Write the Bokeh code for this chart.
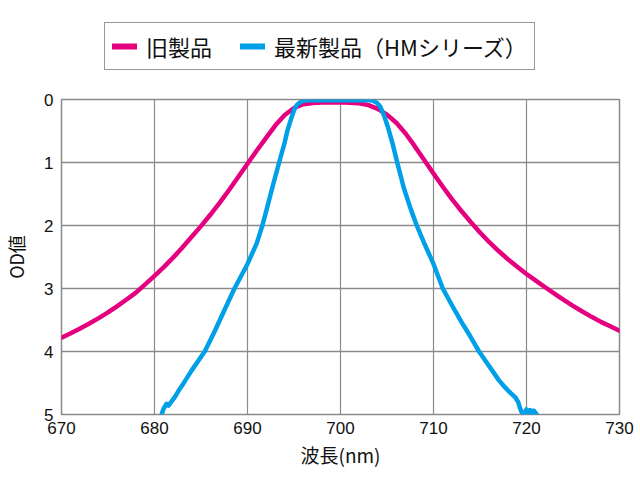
from bokeh.plotting import figure
from bokeh.layouts import column
from bokeh.models import Range1d, Legend, LegendItem, FixedTicker
from bokeh.embed import file_html
from bokeh.resources import INLINE

# --- data ---
old_nm = [670, 671, 672, 673, 674, 675, 676, 677, 678, 679, 680, 681, 682, 683, 684,
          685, 686, 687, 688, 689, 690, 691, 692, 693, 694, 695, 696, 697, 698, 700,
          702, 703, 704, 705, 706, 707, 708, 709, 710, 711, 712, 713, 714, 715, 716,
          717, 718, 719, 720, 721, 722, 723, 724, 725, 726, 727, 728, 729, 730]
old_od = [3.78, 3.71, 3.635, 3.555, 3.47, 3.38, 3.28, 3.175, 3.065, 2.935, 2.80, 2.66,
          2.51, 2.35, 2.18, 2.01, 1.83, 1.64, 1.44, 1.23, 1.02, 0.81, 0.61, 0.41, 0.245,
          0.135, 0.075, 0.055, 0.047, 0.045, 0.06, 0.09, 0.15, 0.24, 0.37, 0.54, 0.745,
          0.96, 1.175, 1.385, 1.585, 1.77, 1.945, 2.11, 2.265, 2.405, 2.535, 2.655, 2.77,
          2.875, 2.98, 3.08, 3.18, 3.275, 3.365, 3.45, 3.53, 3.60, 3.67]

new_nm = [680.8, 681.0, 681.3, 681.5, 681.8, 682.2, 682.6, 683.1, 684.0, 685.4, 686.5,
          687.5, 688.6, 690.0, 691.0, 691.6, 692.0, 692.7, 693.4, 694.0, 694.3, 694.7,
          695.0, 695.3, 695.6, 696.0, 697.0, 698.0, 700.0, 702.0, 703.0, 703.5, 703.9,
          704.3, 704.7, 705.1, 705.6, 706.1, 706.8, 707.6, 708.2, 709.0, 710.0, 711.0,
          712.0, 713.0, 714.0, 714.9, 715.6, 716.3, 717.0, 717.7, 718.3, 718.8, 719.1,
          719.3, 719.5, 719.7, 720.0, 720.2, 720.4, 720.6, 720.8, 721.0, 721.1]
new_od = [4.98, 4.9, 4.83, 4.86, 4.8, 4.72, 4.62, 4.51, 4.3, 4.0, 3.67, 3.35, 3.0, 2.61,
          2.28, 2.0, 1.78, 1.38, 1.0, 0.68, 0.49, 0.3, 0.17, 0.09, 0.05, 0.02, 0.01,
          0.01, 0.01, 0.01, 0.01, 0.02, 0.05, 0.12, 0.26, 0.44, 0.7, 1.0, 1.4, 1.76,
          2.0, 2.28, 2.61, 3.0, 3.27, 3.53, 3.77, 4.0, 4.15, 4.3, 4.45, 4.57, 4.66,
          4.73, 4.8, 4.9, 4.97, 5.0, 4.92, 4.97, 4.93, 4.98, 4.94, 4.98, 5.0]

series_names = ["旧製品", "最新製品（HMシリーズ）"]
x_ticks = [670, 680, 690, 700, 710, 720, 730]
y_ticks = [0, 1, 2, 3, 4, 5]
x_label = "波長(nm)"
y_label = "OD値"

MAGENTA = "#E4007F"
BLUE = "#00A0E9"
GRID = "#8a8a8a"
JP = "Noto Sans CJK JP"
LW = 4.5

TOP_H = 80

# ---- legend strip (its series lie outside its own view; only the legend shows) ----
lg = figure(width=640, height=TOP_H, output_backend="svg", toolbar_location=None,
            x_range=Range1d(0, 1), y_range=Range1d(0, 1),
            x_axis_location=None, y_axis_location=None, min_border=0)
lg.grid.visible = False
lg.outline_line_color = None
lg.background_fill_color = "white"
lg.border_fill_color = "white"
k_old = lg.line(old_nm, old_od, line_color=MAGENTA, line_width=LW + 1.5, line_cap="round")
k_new = lg.line(new_nm, new_od, line_color=BLUE, line_width=LW + 1.5, line_cap="round")
legend = Legend(items=[LegendItem(label=series_names[0], renderers=[k_old]),
                       LegendItem(label=series_names[1], renderers=[k_new])],
                orientation="horizontal", location=(43, 10),
                label_text_font=JP, label_text_font_size="22px",
                label_text_color="#111111",
                glyph_width=25, glyph_height=20, label_standoff=9, spacing=28,
                padding=7, margin=0,
                border_line_color="#333333", border_line_width=1.5,
                background_fill_color="white", background_fill_alpha=1.0)
lg.add_layout(legend, "center")

# ---- main chart ----
p = figure(width=640, height=480 - TOP_H, output_backend="svg", toolbar_location=None,
           x_range=Range1d(670, 730), y_range=Range1d(5, 0),
           min_border_left=60, min_border_right=21, min_border_top=99 - TOP_H,
           min_border_bottom=66)
p.background_fill_color = "white"
p.border_fill_color = "white"
p.outline_line_color = GRID
p.outline_line_width = 1.5

p.line(old_nm, old_od, line_color=MAGENTA, line_width=LW,
       line_cap="round", line_join="round")
p.line(new_nm, new_od, line_color=BLUE, line_width=LW,
       line_cap="round", line_join="round")

for ax in (p.xaxis[0], p.yaxis[0]):
    ax.axis_line_color = None
    ax.major_tick_line_color = None
    ax.minor_tick_line_color = None
    ax.major_tick_out = 0
    ax.major_tick_in = 0
    ax.minor_tick_out = 0
    ax.minor_tick_in = 0
    ax.major_label_text_font = "Liberation Sans"
    ax.major_label_text_font_size = "17px"
    ax.major_label_text_color = "#111111"
    ax.axis_label_text_font = JP
    ax.axis_label_text_font_style = "normal"
    ax.axis_label_text_color = "#111111"

p.xaxis.ticker = FixedTicker(ticks=x_ticks)
p.yaxis.ticker = FixedTicker(ticks=y_ticks)
p.xaxis.major_label_standoff = 7
p.yaxis.major_label_standoff = 8
p.xaxis.axis_label = x_label
p.yaxis.axis_label = y_label
p.xaxis.axis_label_text_font_size = "19px"
p.yaxis.axis_label_text_font_size = "18px"
p.xaxis.axis_label_standoff = 4
p.yaxis.axis_label_standoff = 12

p.xgrid.ticker = FixedTicker(ticks=x_ticks)
p.ygrid.ticker = FixedTicker(ticks=y_ticks)
p.xgrid.grid_line_color = GRID
p.xgrid.grid_line_width = 1.2
p.ygrid.grid_line_color = GRID
p.ygrid.grid_line_width = 1.5

layout = column(lg, p, spacing=0)
open("out.html", "w").write(file_html(layout, INLINE))
